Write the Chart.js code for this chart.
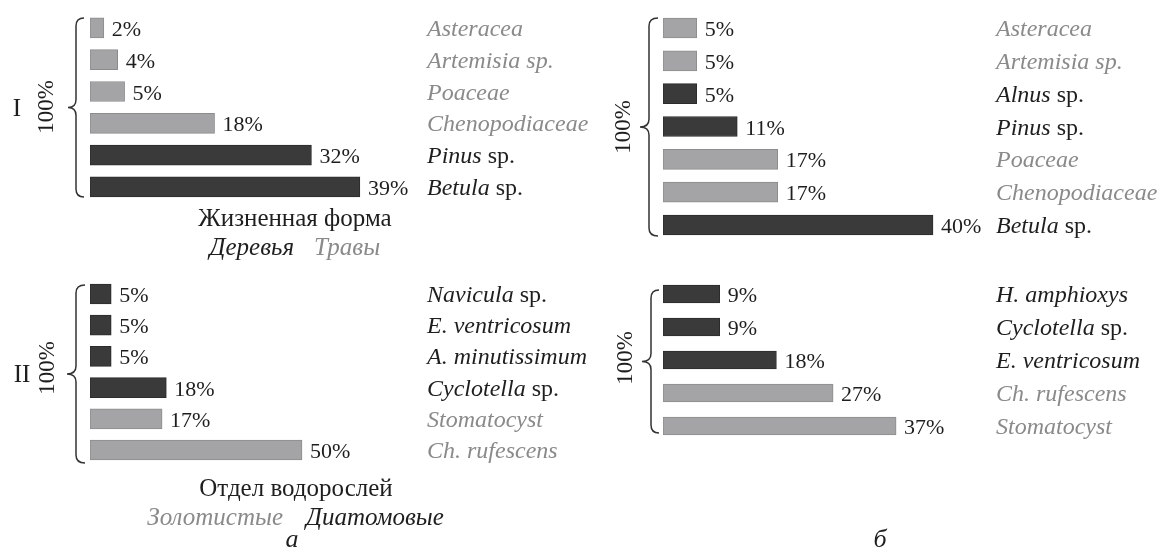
<!DOCTYPE html>
<html lang="ru">
<head>
<meta charset="utf-8">
<title>Спорово-пыльцевой и диатомовый состав</title>
<script src="https://cdn.jsdelivr.net/npm/chart.js@4.4.1/dist/chart.umd.min.js"></script>
<style>
  html, body { margin: 0; padding: 0; background: #fff; }
  #wrap { position: relative; width: 1162px; height: 554px; overflow: hidden; }
  #wrap canvas { position: absolute; left: 0; top: 0; pointer-events: none; }
</style>
</head>
<body>
<div id="wrap">
  <canvas id="a1" width="1162" height="554"></canvas>
  <canvas id="a2" width="1162" height="554"></canvas>
  <canvas id="b1" width="1162" height="554"></canvas>
  <canvas id="b2" width="1162" height="554"></canvas>
</div>
<script>
// а, I — пыльца
const A1_LABELS = ["Asteracea", "Artemisia sp.", "Poaceae", "Chenopodiaceae", "Pinus sp.", "Betula sp."];
const A1_VALUES = [2, 4, 5, 18, 32, 39];
const A1_GROUPS = ["Травы", "Травы", "Травы", "Травы", "Деревья", "Деревья"];

// а, II — водоросли
const A2_LABELS = ["Navicula sp.", "E. ventricosum", "A. minutissimum", "Cyclotella sp.", "Stomatocyst", "Ch. rufescens"];
const A2_VALUES = [5, 5, 5, 18, 17, 50];
const A2_GROUPS = ["Диатомовые", "Диатомовые", "Диатомовые", "Диатомовые", "Золотистые", "Золотистые"];

// б, I — пыльца
const B1_LABELS = ["Asteracea", "Artemisia sp.", "Alnus sp.", "Pinus sp.", "Poaceae", "Chenopodiaceae", "Betula sp."];
const B1_VALUES = [5, 5, 5, 11, 17, 17, 40];
const B1_GROUPS = ["Травы", "Травы", "Деревья", "Деревья", "Травы", "Травы", "Деревья"];

// б, II — водоросли
const B2_LABELS = ["H. amphioxys", "Cyclotella sp.", "E. ventricosum", "Ch. rufescens", "Stomatocyst"];
const B2_VALUES = [9, 9, 18, 27, 37];
const B2_GROUPS = ["Диатомовые", "Диатомовые", "Диатомовые", "Золотистые", "Золотистые"];

const DARK_GROUPS = ["Деревья", "Диатомовые"];
const DARK = "#3a3a3a";
const LIGHT = "#a4a4a6";
const LIGHT_EDGE = "#8c8c8c";
const INK = "#1e1e1e";
const GREY_INK = "#8a8a8a";
const SERIF = "'Liberation Serif', 'DejaVu Serif', serif";
const NAME_SIZE = 24;

function isDark(g) { return DARK_GROUPS.includes(g); }

function drawBrace(ctx, b) {
  const mid = (b.top + b.bottom) / 2;
  const r = 8;
  ctx.save();
  ctx.strokeStyle = "#333";
  ctx.lineWidth = 1.5;
  ctx.beginPath();
  ctx.moveTo(b.end, b.top);
  ctx.quadraticCurveTo(b.line, b.top, b.line, b.top + r);
  ctx.lineTo(b.line, mid - r);
  ctx.quadraticCurveTo(b.line, mid, b.tip, mid);
  ctx.quadraticCurveTo(b.line, mid, b.line, mid + r);
  ctx.lineTo(b.line, b.bottom - r);
  ctx.quadraticCurveTo(b.line, b.bottom, b.end, b.bottom);
  ctx.stroke();
  ctx.restore();
}

// taxon names: italic, "sp." upright for the dark (tree / diatom) rows
function drawTaxon(ctx, text, x, y, dark) {
  ctx.fillStyle = dark ? INK : GREY_INK;
  ctx.textAlign = "left";
  if (dark && text.endsWith(" sp.")) {
    const head = text.slice(0, -4);
    ctx.font = `italic ${NAME_SIZE}px ${SERIF}`;
    ctx.fillText(head, x, y);
    const w = ctx.measureText(head).width;
    ctx.font = `${NAME_SIZE}px ${SERIF}`;
    ctx.fillText(" sp.", x + w, y);
  } else {
    ctx.font = `italic ${NAME_SIZE}px ${SERIF}`;
    ctx.fillText(text, x, y);
  }
}

const panelPlugin = {
  id: "panel",
  afterDatasetsDraw(chart, _args, opts) {
    const ctx = chart.ctx;
    const meta = chart.getDatasetMeta(0);
    const groups = opts.groups;
    ctx.save();
    ctx.textBaseline = "alphabetic";
    meta.data.forEach((bar, i) => {
      const v = chart.data.datasets[0].data[i];
      ctx.font = `22px ${SERIF}`;
      ctx.fillStyle = INK;
      ctx.textAlign = "left";
      ctx.fillText(`${v}%`, bar.x + 8, bar.y + 8);
      drawTaxon(ctx, chart.data.labels[i], opts.labelX, bar.y + 8, isDark(groups[i]));
    });

    drawBrace(ctx, opts.brace);

    // "100%" rotated beside the brace
    ctx.save();
    ctx.translate(opts.pct.x, opts.pct.y);
    ctx.rotate(-Math.PI / 2);
    ctx.font = `23px ${SERIF}`;
    ctx.fillStyle = INK;
    ctx.textAlign = "center";
    ctx.textBaseline = "middle";
    ctx.fillText("100%", 0, 0);
    ctx.restore();

    for (const t of opts.texts || []) {
      ctx.font = `${t.italic ? "italic " : ""}${t.size || 25}px ${SERIF}`;
      ctx.fillStyle = t.grey ? GREY_INK : INK;
      ctx.textAlign = t.align || "left";
      ctx.fillText(t.text, t.x, t.y);
    }
    ctx.restore();
  },
};

function makePanel(id, labels, values, groups, geo, extras) {
  const xMax = 60;
  const right = geo.left + xMax * geo.pxPer;
  const bottom = geo.top + labels.length * geo.rowH;
  return new Chart(document.getElementById(id), {
    type: "bar",
    data: {
      labels,
      datasets: [{
        data: values,
        backgroundColor: groups.map((g) => (isDark(g) ? DARK : LIGHT)),
        borderColor: groups.map((g) => (isDark(g) ? "#2c2c2c" : LIGHT_EDGE)),
        borderWidth: 1,
        borderSkipped: false,
        barThickness: geo.thick,
      }],
    },
    options: {
      indexAxis: "y",
      responsive: false,
      animation: false,
      events: [],
      layout: { padding: { left: geo.left, right: 1162 - right, top: geo.top, bottom: 554 - bottom } },
      scales: {
        x: { display: false, min: 0, max: xMax },
        y: { display: false },
      },
      plugins: {
        legend: { display: false },
        tooltip: { enabled: false },
        panel: { groups, ...extras },
      },
    },
    plugins: [panelPlugin],
  });
}

makePanel("a1", A1_LABELS, A1_VALUES, A1_GROUPS,
  { left: 90, pxPer: 6.92, top: 12, rowH: 31.8, thick: 20 },
  {
    labelX: 427,
    brace: { tip: 68, line: 76, end: 84, top: 18, bottom: 197 },
    pct: { x: 47, y: 107 },
    texts: [
      { text: "I", x: 17, y: 116, align: "center" },
      { text: "Жизненная форма", x: 295, y: 226, align: "center" },
      { text: "Деревья", x: 294, y: 255, align: "right", italic: true },
      { text: "Травы", x: 314, y: 255, italic: true, grey: true },
    ],
  });

makePanel("a2", A2_LABELS, A2_VALUES, A2_GROUPS,
  { left: 90, pxPer: 4.24, top: 278.4, rowH: 31.2, thick: 20 },
  {
    labelX: 427,
    brace: { tip: 67, line: 76, end: 85, top: 285, bottom: 463 },
    pct: { x: 48, y: 368 },
    texts: [
      { text: "II", x: 22, y: 382, align: "center" },
      { text: "Отдел водорослей", x: 296, y: 496, align: "center" },
      { text: "Золотистые", x: 283, y: 525, align: "right", italic: true, grey: true },
      { text: "Диатомовые", x: 306, y: 525, italic: true },
      { text: "а", x: 292, y: 547, align: "center", italic: true, size: 26 },
    ],
  });

makePanel("b1", B1_LABELS, B1_VALUES, B1_GROUPS,
  { left: 663, pxPer: 6.75, top: 11.6, rowH: 32.83, thick: 20 },
  {
    labelX: 996,
    brace: { tip: 640, line: 649, end: 658, top: 18, bottom: 236 },
    pct: { x: 624, y: 127 },
  });

makePanel("b2", B2_LABELS, B2_VALUES, B2_GROUPS,
  { left: 663, pxPer: 6.3, top: 277.5, rowH: 33, thick: 18 },
  {
    labelX: 996,
    brace: { tip: 642, line: 651, end: 659, top: 290, bottom: 433 },
    pct: { x: 626, y: 358 },
    texts: [
      { text: "б", x: 880, y: 547, align: "center", italic: true, size: 26 },
    ],
  });
</script>
</body>
</html>
